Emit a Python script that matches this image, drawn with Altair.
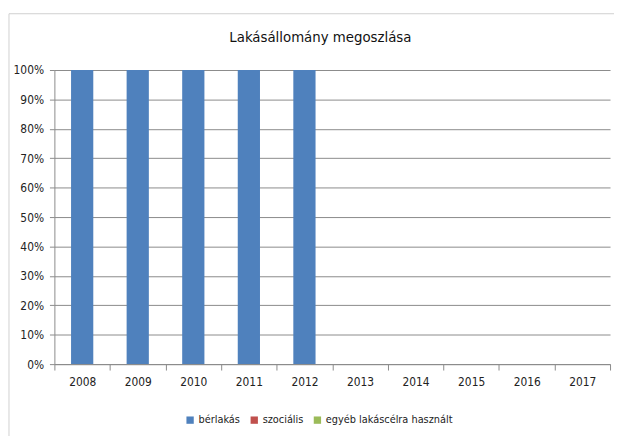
import altair as alt
import pandas as pd

years = ["2008", "2009", "2010", "2011", "2012", "2013", "2014", "2015", "2016", "2017"]
berlakas = [1.0, 1.0, 1.0, 1.0, 1.0, 0, 0, 0, 0, 0]
szocialis = [0, 0, 0, 0, 0, 0, 0, 0, 0, 0]
egyeb = [0, 0, 0, 0, 0, 0, 0, 0, 0, 0]
series = ["bérlakás", "szociális", "egyéb lakáscélra használt"]
colors = ["#4F81BD", "#C0504D", "#9BBB59"]
y_ticks = [0, 0.1, 0.2, 0.3, 0.4, 0.5, 0.6, 0.7, 0.8, 0.9, 1.0]

rows = []
for i, y in enumerate(years):
    for s, vals in zip(series, [berlakas, szocialis, egyeb]):
        rows.append({"ev": y, "sorozat": s, "ertek": vals[i], "rend": series.index(s)})
df = pd.DataFrame(rows)

FONT = "DejaVu Sans Condensed"

bars = alt.Chart(df).mark_bar(width=alt.RelativeBandSize(0.4)).encode(
    x=alt.X("ev:N", sort=years, title=None,
            scale=alt.Scale(paddingInner=0, paddingOuter=0),
            axis=alt.Axis(labelAngle=0, tickBand="extent", grid=False,
                          domainColor="#8a8a8a", tickColor="#8a8a8a", tickSize=6,
                          labelPadding=7, labelFontSize=12, labelColor="#222222",
                          labelFont=FONT)),
    y=alt.Y("ertek:Q", stack="zero", title=None,
            scale=alt.Scale(domain=[0, 1], nice=False),
            axis=alt.Axis(format=".0%", values=y_ticks, grid=True, gridColor="#8a8a8a",
                          domainColor="#8a8a8a", tickColor="#8a8a8a", tickSize=5,
                          labelFontSize=12, labelColor="#222222", labelFont=FONT,
                          labelPadding=6)),
    color=alt.Color("sorozat:N", sort=series,
                    scale=alt.Scale(domain=series, range=colors),
                    legend=alt.Legend(title=None, orient="none", legendX=132, legendY=349,
                                      direction="horizontal",
                                      symbolType="square", symbolSize=55,
                                      symbolStrokeWidth=0, labelFontSize=11,
                                      labelFont=FONT, labelColor="#222222",
                                      labelOffset=3, columnPadding=8)),
    order=alt.Order("rend:Q"),
)

border = alt.Chart(pd.DataFrame({"a": [0]})).mark_rect(
    fillOpacity=0, stroke="#d0d0d0", strokeWidth=1
).encode(
    x=alt.value(-46), x2=alt.value(640), y=alt.value(-57), y2=alt.value(460)
)

chart = alt.layer(border, bars).properties(
    width=563, height=298,
    padding={"left": 47, "top": 60, "right": 4, "bottom": 70},
    autosize=alt.AutoSizeParams(type="none"),
    title=alt.TitleParams("Lakásállomány megoszlása", font=FONT, fontSize=15,
                          fontWeight="normal", color="#111111", offset=-32, dx=-12),
).configure(background="white").configure_view(stroke=None)

chart.save("out.html", embed_options={"renderer": "svg", "actions": False})
